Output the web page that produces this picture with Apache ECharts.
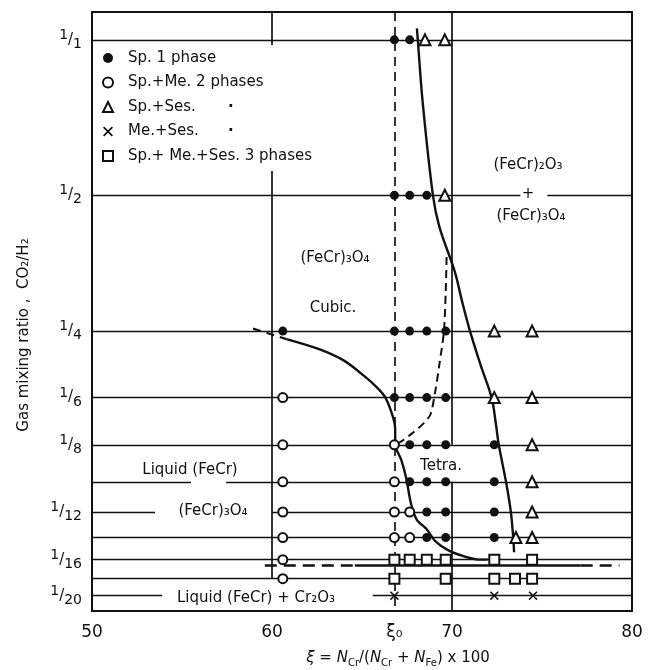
<!DOCTYPE html>
<html><head><meta charset="utf-8">
<script src="https://cdn.jsdelivr.net/npm/echarts@6/dist/echarts.min.js"></script>
<style>html,body{margin:0;padding:0;background:#fff}#c{width:663px;height:670px}</style>
</head><body><div id="c"></div>
<script>
// ---------- axis definitions ----------
const xTickValues = [50, 60, 66.8, 70, 80];
const xTickLabels = ['50', '60', 'ξ₀', '70', '80'];
const yTickDenoms = [1, 2, 4, 6, 8, 12, 16, 20];          // CO2/H2 = 1/den
const yTickNumer = ['1', '1', '1', '1', '1', '1', '1', '1'];
// calibration of the drawn (non-uniform) ratio scale: denominator -> axis unit
const yScaleDenoms = [1, 2, 4, 8, 16, 20];
const yScaleUnits = [0, 1.34, 2.51, 3.49, 4.48, 4.79];
const yTopDen = 0.8833, yBottomDen = 22;

const seriesNames = ['Sp. 1 phase', 'Sp.+Me. 2 phases', 'Sp.+Ses.', 'Me.+Ses.', 'Sp.+ Me.+Ses. 3 phases'];

// ---------- data: [ξ, denominator of CO2/H2] ----------
const sp1Phase = [[66.8,1],[67.65,1],[66.8,2],[67.65,2],[68.6,2],
  [60.6,4],[66.8,4],[67.65,4],[68.6,4],[69.65,4],
  [66.8,6],[67.65,6],[68.6,6],[69.65,6],
  [67.65,8],[68.6,8],[69.65,8],[72.35,8],
  [67.65,10],[68.6,10],[69.65,10],[72.35,10],
  [68.6,12],[69.65,12],[72.35,12],
  [68.6,14],[69.65,14],[72.35,14]];
const spMe2Phases = [[60.6,6],[60.6,8],[66.8,8],[60.6,10],[66.8,10],
  [60.6,12],[66.8,12],[67.65,12],[60.6,14],[66.8,14],[67.65,14],[60.6,16],[60.6,18]];
const spSes = [[68.5,1],[69.6,1],[69.6,2],[72.35,4],[74.45,4],[72.35,6],[74.45,6],
  [74.45,8],[74.45,10],[74.45,12],[73.55,14],[74.45,14]];
const meSes = [[66.8,20],[72.35,20],[74.5,20]];
const spMeSes3Phases = [[66.8,16],[67.65,16],[68.6,16],[69.65,16],[72.35,16],[74.45,16],
  [66.8,18],[69.65,18],[72.35,18],[73.5,18],[74.45,18]];

// phase boundaries
const boundarySpSes = [[68.05,0.95],[68.1,1],[68.37,1.32],[68.94,2],[69.3,2.35],[70.15,2.95],
  [70.57,3.45],[71.0,4],[71.62,4.97],[72.2,6],[72.43,7.0],[72.6,8],[73.0,10],[73.27,12],[73.4,14],[73.45,15.3]];
const boundaryCubicDashed = [[58.95,3.95],[60.8,4.2]];
const boundaryCubic = [[60.8,4.2],[62.58,4.46],[64.0,4.79],[65.1,5.25],[65.88,5.67],[66.3,6.0],
  [66.69,6.68],[66.84,7.22],[66.85,8],[67.19,8.79],[67.46,9.8],[67.72,11.4],[68.04,12.56],
  [68.58,13.3],[69.07,14.3],[69.78,15.1],[70.72,15.7],[71.6,16.0],[71.98,16.0]];
const boundaryCubicTetra = [[69.7,2.74],[69.65,3.27],[69.55,4],[69.3,4.9],[69.05,5.85],
  [68.8,6.65],[68.45,7.0],[67.8,7.45],[67.25,7.8],[66.85,8]];

// experiment rows [den, ξ from, ξ to]
const rowLines = [[1,50,80],[2,50,73.8],[2,75.3,80],[4,50,80],[6,50,80],[8,50,80],
  [10,50,55.5],[10,57.45,80],[12,50,53.5],[12,60,80],[14,50,80],[16,50,80],[18,50,80],
  [20,50,53.9],[20,65.6,80]];
// vertical guides [ξ, den from, den to]
const verticalLines = [[60,yTopDen,18],[70,yTopDen,8],[70,10,yBottomDen]];
const xiZero = [[66.8,yTopDen,yBottomDen]];
// three-phase line [den, ξ from, ξ to]
const solidusSolid = [[16.6,64.6,77.15]];
const solidusDashed = [[16.6,59.6,64.6],[16.6,77.15,79.3]];

// ---------- scale ----------
function toAxis(den) {
  const L = Math.log2(den), Ls = yScaleDenoms.map(Math.log2), n = Ls.length;
  let i = 0;
  while (i < n - 2 && L > Ls[i + 1]) i++;
  return yScaleUnits[i] + (L - Ls[i]) / (Ls[i + 1] - Ls[i]) * (yScaleUnits[i + 1] - yScaleUnits[i]);
}
const pt = ([x, d]) => [x, toAxis(d)];
const hSeg = arr => arr.map(([d, a, b]) => ({coords: [[a, toAxis(d)], [b, toAxis(d)]]}));
const vSeg = arr => arr.map(([x, a, b]) => ({coords: [[x, toAxis(a)], [x, toAxis(b)]]}));

const FONT = 'DejaVu Sans';
const INK = '#111';
const yTickUnits = yTickDenoms.map(toAxis);

const chart = echarts.init(document.getElementById('c'));
const linesBase = (name, data, width, type) => ({
  type: 'lines', name, coordinateSystem: 'cartesian2d', data, silent: true, z: 2,
  lineStyle: {color: INK, width, type: type || 'solid', opacity: 1}
});
const curve = (name, data, width, type, smooth) => ({
  type: 'line', name, data: data.map(pt), showSymbol: false, smooth: smooth, silent: true, z: 3,
  lineStyle: {color: INK, width, type: type || 'solid'}
});
const crossPath = 'path://M0,1.2L1.2,0L5,3.8L8.8,0L10,1.2L6.2,5L10,8.8L8.8,10L5,6.2L1.2,10L0,8.8L3.8,5Z';
const scat = (name, data, symbol, size, filled) => ({
  type: 'scatter', name, data: data.map(pt), symbol, symbolSize: size, z: 5, symbolKeepAspect: true,
  itemStyle: filled ? {color: INK, opacity: 1} : {color: INK, borderColor: INK, borderWidth: 1.5, opacity: 1}
});

chart.setOption({
  animation: false,
  backgroundColor: '#fff',
  grid: {left: 92, right: 31, top: 12, bottom: 59, show: true, borderColor: INK, borderWidth: 2, backgroundColor: 'transparent'},
  xAxis: {
    type: 'value', min: 50, max: 80,
    axisLine: {show: false}, axisTick: {show: false}, splitLine: {show: false},
    axisLabel: {
      customValues: xTickValues, margin: 13, color: INK, fontFamily: FONT, fontSize: 17,
      formatter: v => { const i = xTickValues.findIndex(t => Math.abs(t - v) < 1e-6); return i >= 0 ? xTickLabels[i] : ''; }
    }
  },
  yAxis: {
    type: 'value', inverse: true, min: toAxis(yTopDen), max: toAxis(yBottomDen),
    axisLine: {show: false}, axisTick: {show: false}, splitLine: {show: false},
    axisLabel: {
      customValues: yTickUnits, margin: 10, color: INK, fontFamily: FONT,
      formatter: v => {
        const i = yTickUnits.findIndex(t => Math.abs(t - v) < 1e-6);
        return i >= 0 ? '{n|' + yTickNumer[i] + '}{s|/}{d|' + yTickDenoms[i] + '}' : '';
      },
      rich: {
        n: {fontSize: 14, fontFamily: FONT, color: INK, verticalAlign: 'top', lineHeight: 14},
        s: {fontSize: 15, fontFamily: FONT, color: INK, lineHeight: 23},
        d: {fontSize: 14, fontFamily: FONT, color: INK, verticalAlign: 'bottom', lineHeight: 14}
      }
    }
  },
  legend: {
    data: seriesNames, orient: 'vertical', left: 96, top: 45,
    padding: [4, 10, 6, 6], itemGap: 6.5, itemWidth: 10, itemHeight: 10,
    backgroundColor: '#fff', selectedMode: false,
    itemStyle: {opacity: 1},
    formatter: name => (name === 'Sp.+Ses.' || name === 'Me.+Ses.') ? '{w|' + name + '}{d|·}' : '{t|' + name + '}',
    textStyle: {
      fontFamily: FONT, fontSize: 15, color: INK, lineHeight: 18,
      rich: {
        t: {fontFamily: FONT, fontSize: 15, color: INK, padding: [0, 0, 0, 10], lineHeight: 18},
        w: {fontFamily: FONT, fontSize: 15, color: INK, padding: [0, 0, 0, 10], width: 100, lineHeight: 18},
        d: {fontFamily: FONT, fontSize: 15, color: INK, lineHeight: 18, fontWeight: 'bold'}
      }
    }
  },
  series: [
    linesBase('rows', hSeg(rowLines), 1.4),
    linesBase('verticals', vSeg(verticalLines), 1.7),
    linesBase('ξ0', vSeg(xiZero), 1.7, [9, 6]),
    linesBase('three-phase', hSeg(solidusSolid), 2.6),
    linesBase('three-phase dashed', hSeg(solidusDashed), 2.6, [12, 7]),
    curve('Sp/Ses boundary', boundarySpSes, 2.4, 'solid', 0.35),
    curve('Cubic boundary dashed', boundaryCubicDashed, 2.2, [8, 6], false),
    curve('Cubic boundary', boundaryCubic, 2.4, 'solid', 0.3),
    curve('Cubic/Tetra boundary', boundaryCubicTetra, 2.0, [8, 5], 0.3),
    scat(seriesNames[0], sp1Phase, 'circle', 9, true),
    scat(seriesNames[1], spMe2Phases, 'emptyCircle', 9, false),
    scat(seriesNames[2], spSes, 'emptyTriangle', 11, false),
    scat(seriesNames[3], meSes, crossPath, 9, true),
    scat(seriesNames[4], spMeSes3Phases, 'emptyRect', 10, false)
  ],
  graphic: [
    {type: 'text', x: 528, y: 165, z: 10, style: {text: '(FeCr)₂O₃', fontFamily: FONT, fontSize: 15, fill: INK, align: 'center', verticalAlign: 'middle'}},
    {type: 'text', x: 528, y: 194, z: 10, style: {text: '+', fontFamily: FONT, fontSize: 15, fill: INK, align: 'center', verticalAlign: 'middle'}},
    {type: 'text', x: 531, y: 216, z: 10, style: {text: '(FeCr)₃O₄', fontFamily: FONT, fontSize: 15, fill: INK, align: 'center', verticalAlign: 'middle'}},
    {type: 'text', x: 335, y: 258, z: 10, style: {text: '(FeCr)₃O₄', fontFamily: FONT, fontSize: 15, fill: INK, align: 'center', verticalAlign: 'middle'}},
    {type: 'text', x: 333, y: 308, z: 10, style: {text: 'Cubic.', fontFamily: FONT, fontSize: 15, fill: INK, align: 'center', verticalAlign: 'middle'}},
    {type: 'text', x: 441, y: 466, z: 10, style: {text: 'Tetra.', fontFamily: FONT, fontSize: 15, fill: INK, align: 'center', verticalAlign: 'middle'}},
    {type: 'text', x: 190, y: 470, z: 10, style: {text: 'Liquid (FeCr)', fontFamily: FONT, fontSize: 15, fill: INK, align: 'center', verticalAlign: 'middle'}},
    {type: 'text', x: 213, y: 511, z: 10, style: {text: '(FeCr)₃O₄', fontFamily: FONT, fontSize: 15, fill: INK, align: 'center', verticalAlign: 'middle'}},
    {type: 'text', x: 256, y: 598, z: 10, style: {text: 'Liquid (FeCr) + Cr₂O₃', fontFamily: FONT, fontSize: 15, fill: INK, align: 'center', verticalAlign: 'middle'}},
    {type: 'text', x: 24, y: 335, rotation: Math.PI / 2, z: 10, style: {text: 'Gas mixing ratio ,  CO₂/H₂', fontFamily: FONT, fontSize: 15, fill: INK, align: 'center', verticalAlign: 'middle'}},
    {type: 'text', x: 398, y: 658, z: 10, style: {
      text: '{i|ξ} = {i|N}{s|Cr}/({i|N}{s|Cr} + {i|N}{s|Fe}) x 100',
      fontFamily: FONT, fontSize: 15, fill: INK, align: 'center', verticalAlign: 'middle', lineHeight: 20,
      rich: {
        i: {fontFamily: FONT, fontSize: 15, fontStyle: 'italic', fill: INK, lineHeight: 20},
        s: {fontFamily: FONT, fontSize: 10, fill: INK, verticalAlign: 'bottom', lineHeight: 11}
      }
    }}
  ]
});
</script></body></html>
